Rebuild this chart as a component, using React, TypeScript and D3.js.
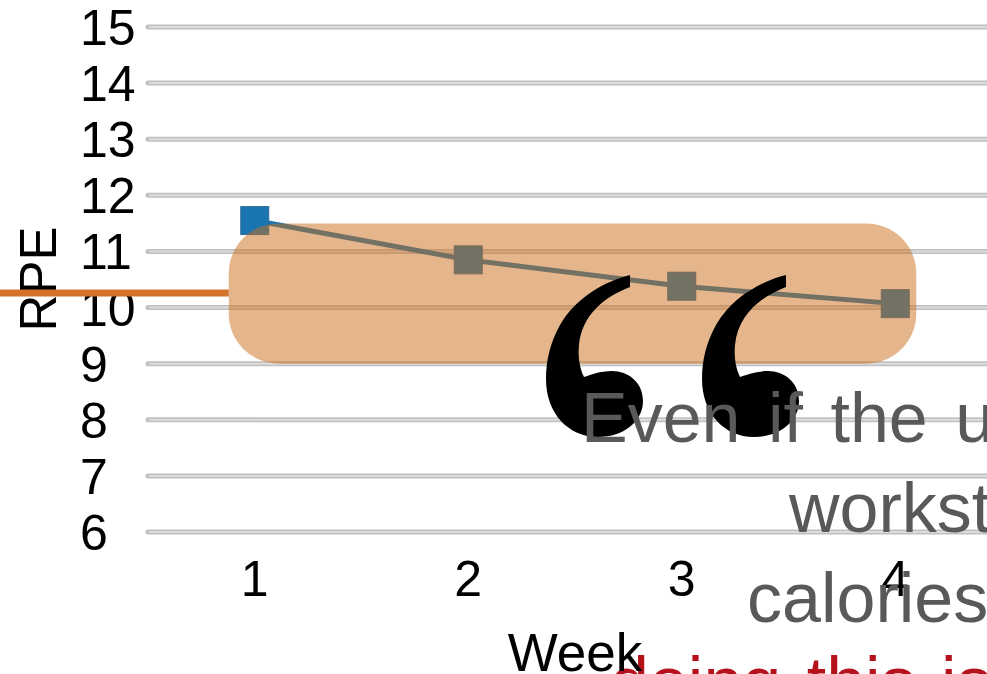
import React from "react";
import * as d3 from "d3";

// RPE by training week
const weeks: string[] = ["1", "2", "3", "4"];
const rpeValues: number[] = [11.55, 10.85, 10.38, 10.07];
const yTicks: number[] = [6, 7, 8, 9, 10, 11, 12, 13, 14, 15];

// Highlighted value band and the pointer line that leads into it
const highlightBand: [number, number] = [9, 11.5];
const pointerValue = 10.26;

// Pull-quote lines
const quoteLines: string[] = ["Even if the u", "workst", "calories", "doing this is"];

const W = 987;
const H = 674;
const FONT = "'Liberation Sans', Arial, Helvetica, sans-serif";

// Opening-quote glyph outline, one comma-shaped mark
const QUOTE_SHAPE =
  "M84,0 C60,6 30,22 14,50 C4,68 0,86 0,104 C0,138 22,162 52,162 " +
  "C78,162 97,146 97,126 C97,107 82,96 66,96 C54,96 44,100 38,102 " +
  "C33,92 32,80 33,70 C36,40 58,22 84,12 Z";

export default function App() {
  const x = d3.scaleBand<string>().domain(weeks).range([148, 1002]);
  const y = d3.scaleLinear().domain([6, 15]).range([532, 27]);
  const cx = (w: string) => (x(w) ?? 0) + x.bandwidth() / 2;

  const line = d3
    .line<number>()
    .x((_, i) => cx(weeks[i]))
    .y((d) => y(d));

  const marker = 28;
  const bandLeft = cx(weeks[0]) - 26;
  const bandRight = cx(weeks[weeks.length - 1]) + 21;
  const bandTop = y(highlightBand[1]);
  const bandBottom = y(highlightBand[0]);

  return (
    <svg
      width={W}
      height={H}
      viewBox={`0 0 ${W} ${H}`}
      style={{ position: "absolute", left: 0, top: 0, display: "block", background: "#fff" }}
    >
      {/* gridlines */}
      <g>
        {yTicks.map((t) => (
          <g key={t}>
            <line x1={148} x2={1002} y1={y(t)} y2={y(t)} stroke="#c0c0c0" strokeWidth={5} strokeLinecap="round" />
            <line x1={149} x2={1002} y1={y(t)} y2={y(t)} stroke="#dcdcdc" strokeWidth={2} />
          </g>
        ))}
      </g>

      {/* y tick labels */}
      <g fontFamily={FONT} fontSize={50} fill="#000">
        {yTicks.map((t) => (
          <text key={t} x={80} y={y(t) + 18}>
            {t}
          </text>
        ))}
      </g>

      {/* x tick labels */}
      <g fontFamily={FONT} fontSize={50} fill="#000" textAnchor="middle">
        {weeks.map((w) => (
          <text key={w} x={cx(w)} y={596}>
            {w}
          </text>
        ))}
      </g>

      {/* axis titles */}
      <text
        transform="translate(56,279) rotate(-90)"
        textAnchor="middle"
        fontFamily={FONT}
        fontSize={51}
        fill="#000"
      >
        RPE
      </text>

      {/* series */}
      <path d={line(rpeValues) ?? ""} fill="none" stroke="#1a75b0" strokeWidth={5} />
      {rpeValues.map((v, i) => (
        <rect
          key={i}
          x={cx(weeks[i]) - marker / 2}
          y={y(v) - marker / 2}
          width={marker}
          height={marker}
          fill="#1a75b0"
          stroke="#2f6d96"
          strokeWidth={1}
        />
      ))}

      {/* highlight band */}
      <line x1={0} x2={bandLeft} y1={y(pointerValue)} y2={y(pointerValue)} stroke="#d4732a" strokeWidth={7} />
      <rect
        x={bandLeft}
        y={bandTop}
        width={bandRight - bandLeft}
        height={bandBottom - bandTop}
        rx={50}
        ry={50}
        fill="#cb6b17"
        fillOpacity={0.5}
      />

      {/* quote marks */}
      <path d={QUOTE_SHAPE} transform="translate(546,275)" fill="#000" />
      <path d={QUOTE_SHAPE} transform="translate(702,275)" fill="#000" />

      {/* pull quote */}
      <g fontFamily={FONT} fontSize={70}>
        <text x={581} y={442} fill="#595959" wordSpacing={8}>
          {quoteLines[0]}
        </text>
        <text x={789} y={532} fill="#595959">
          {quoteLines[1]}
        </text>
        <text x={747} y={622} fill="#595959">
          {quoteLines[2]}
        </text>
        <text x={610} y={706} fill="#b5121b" wordSpacing={6}>
          {quoteLines[3]}
        </text>
      </g>

      {/* x axis title */}
      <text x={575} y={671} textAnchor="middle" fontFamily={FONT} fontSize={53} fill="#000">
        Week
      </text>
    </svg>
  );
}
